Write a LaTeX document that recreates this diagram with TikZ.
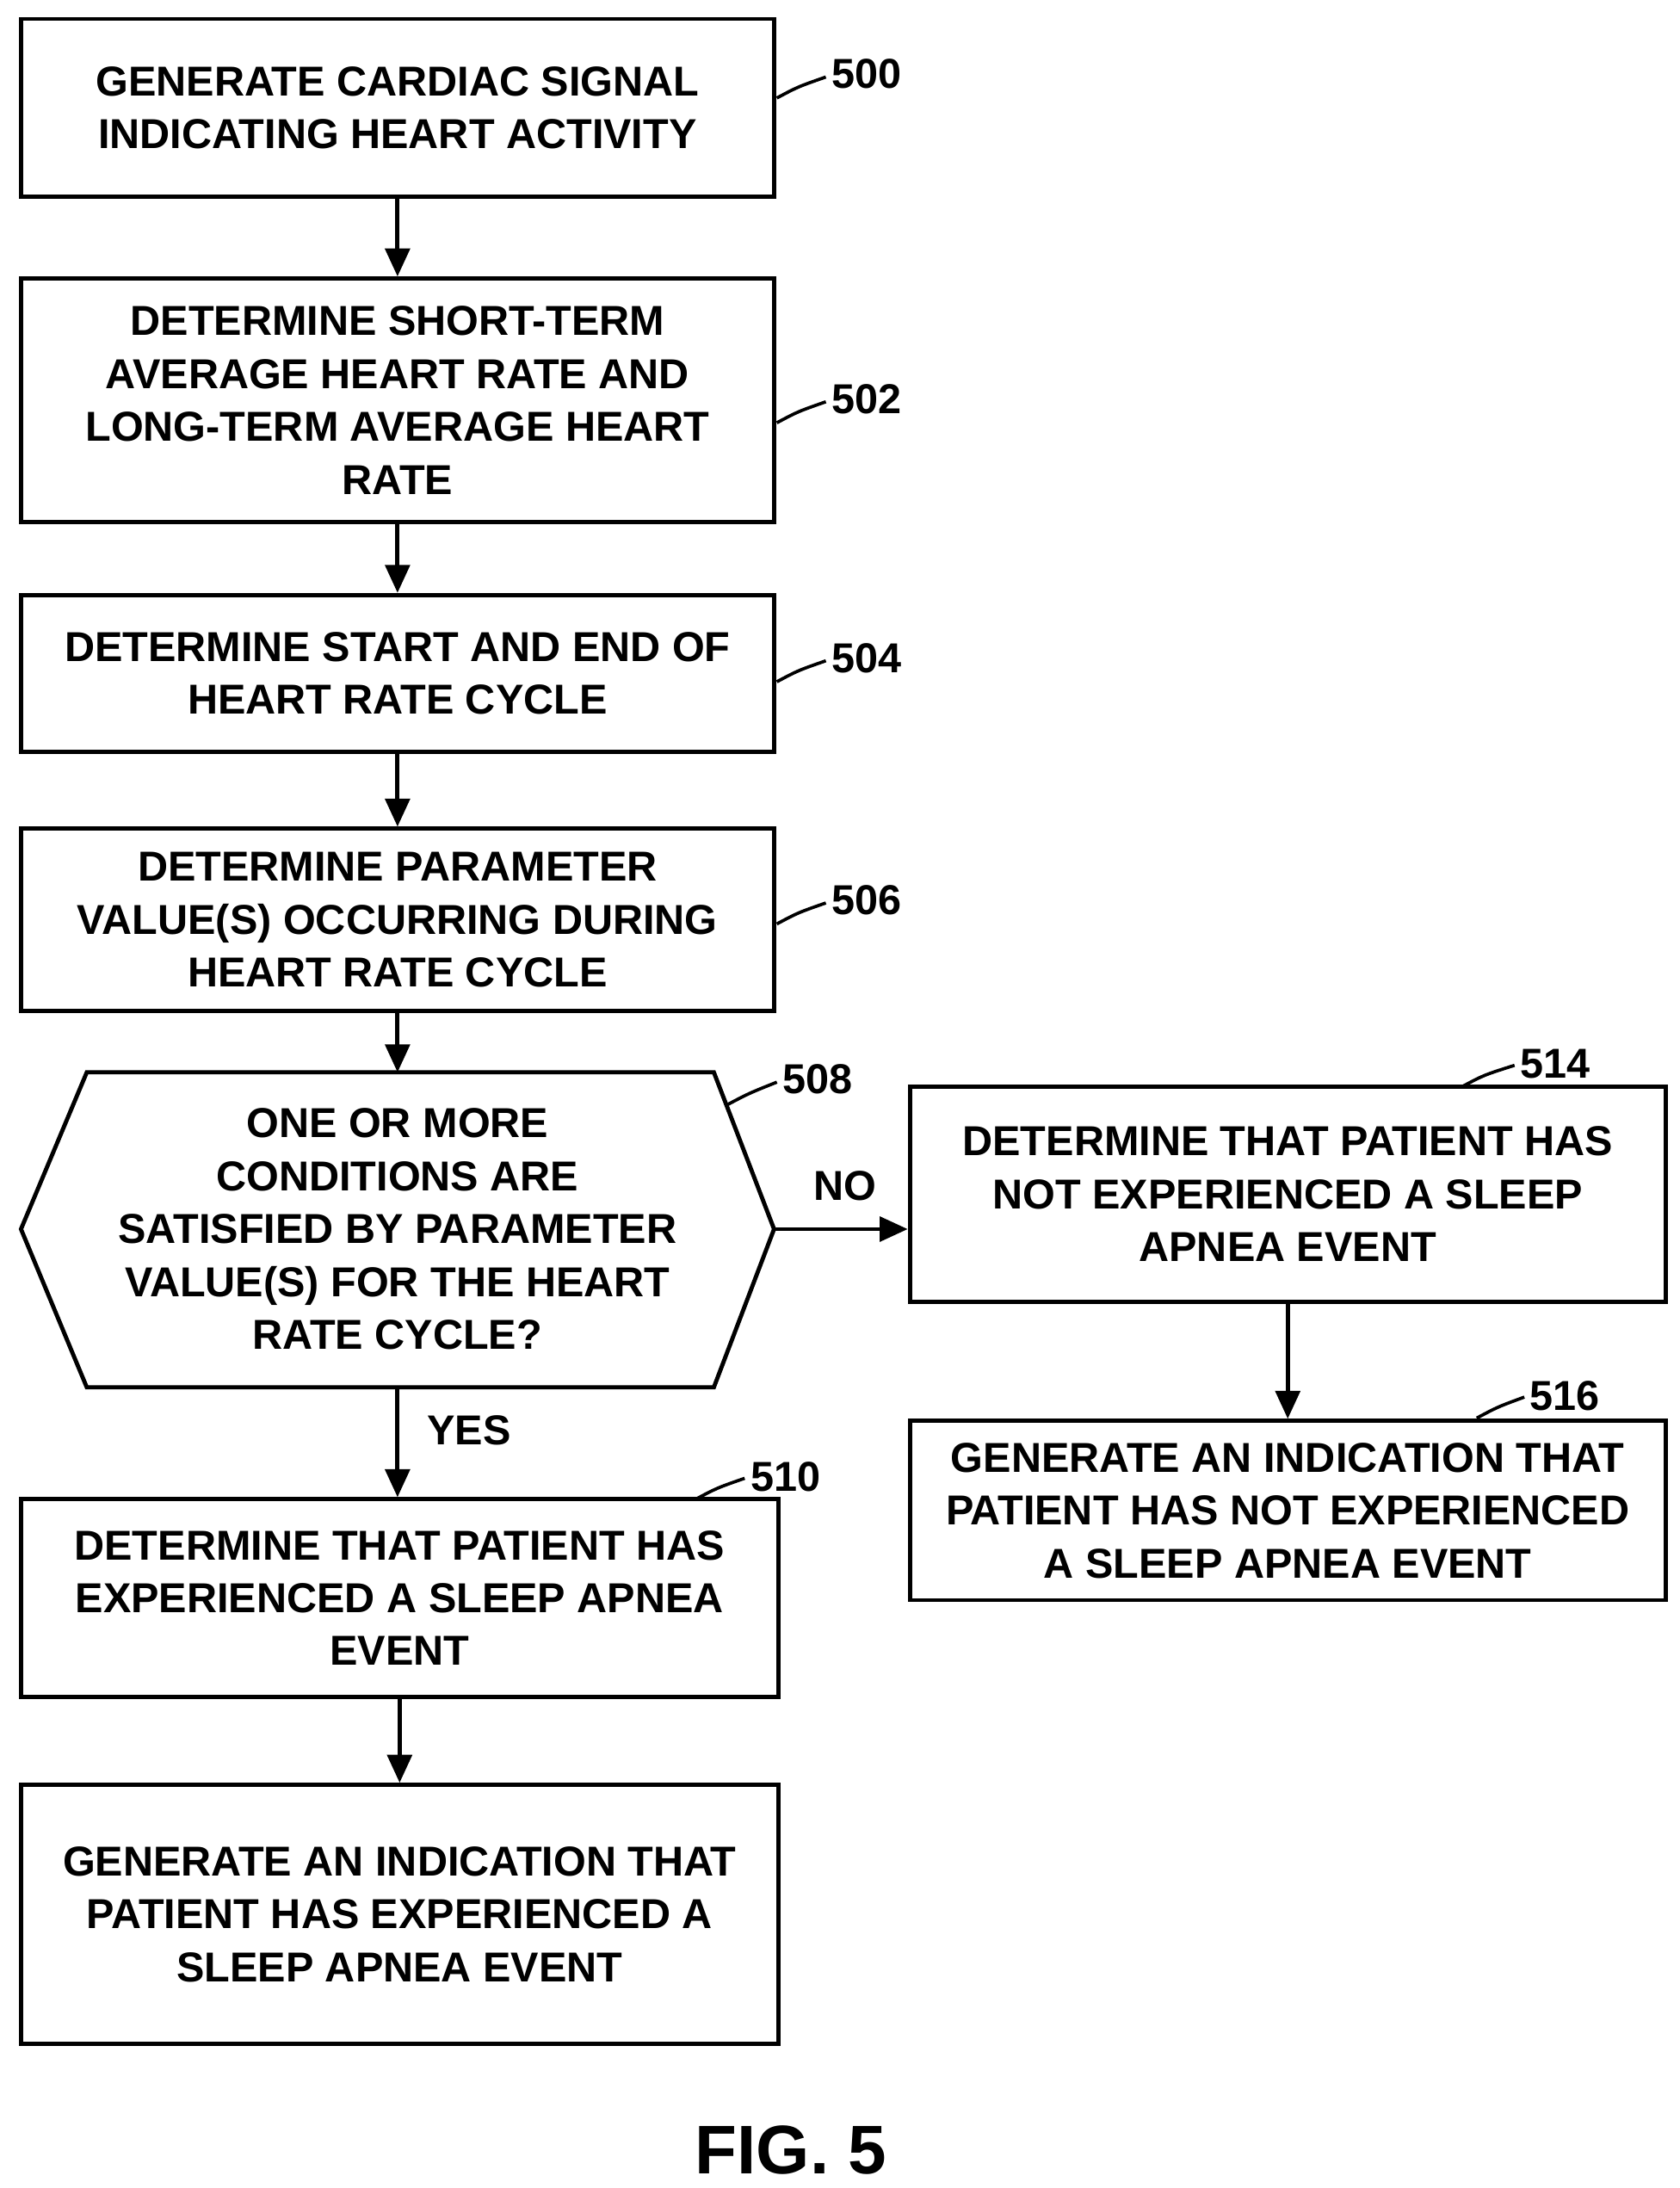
\documentclass[tikz,border=0pt]{standalone}
\usepackage{fontspec}
\setmainfont{Liberation Sans}
\usetikzlibrary{arrows.meta}
\usetikzlibrary{positioning}

\tikzset{
	box/.style={draw, line width=1.7pt, align=center, inner sep=0pt,
		font=\fontsize{17}{21.5}\selectfont\bfseries},
	flow/.style={line width=1.7pt, -{Triangle[length=4mm, width=3.5mm]}},
	tag/.style={font=\fontsize{17}{20}\selectfont\bfseries},
	lead/.style={line width=1.3pt}
}

\begin{document}
\begin{tikzpicture}[x=0.02cm, y=-0.02cm]
\useasboundingbox (0,0) rectangle (1200,1563);

\node[box, minimum width=538*0.02cm, minimum height=127*0.02cm] (s500) at (284,77)
	{GENERATE CARDIAC SIGNAL\\INDICATING HEART ACTIVITY};
\node[box, minimum width=538*0.02cm, minimum height=174*0.02cm] (s502) at (284,286)
	{DETERMINE SHORT-TERM\\AVERAGE HEART RATE AND\\LONG-TERM AVERAGE HEART\\RATE};
\node[box, minimum width=538*0.02cm, minimum height=112*0.02cm] (s504) at (284,481)
	{DETERMINE START AND END OF\\HEART RATE CYCLE};
\node[box, minimum width=538*0.02cm, minimum height=130*0.02cm] (s506) at (284,657)
	{DETERMINE PARAMETER\\VALUE(S) OCCURRING DURING\\HEART RATE CYCLE};

% decision
\coordinate (dl) at (15,878);
\coordinate (dr) at (553,878);
\coordinate (dt) at (284,766);
\coordinate (db) at (284,991);
\draw[line width=1.7pt] (dl) -- (62,766) -- (510,766) -- (dr) -- (510,991) -- (62,991) -- cycle;
\node[box, draw=none] (s508) at (284,878)
	{ONE OR MORE\\CONDITIONS ARE\\SATISFIED BY PARAMETER\\VALUE(S) FOR THE HEART\\RATE CYCLE?};

\node[box, minimum width=541*0.02cm, minimum height=141*0.02cm] (s510) at (285.5,1141.5)
	{DETERMINE THAT PATIENT HAS\\EXPERIENCED A SLEEP APNEA\\EVENT};
\node[box, minimum width=541*0.02cm, minimum height=185*0.02cm] (s512) at (285.5,1367.5)
	{GENERATE AN INDICATION THAT\\PATIENT HAS EXPERIENCED A\\SLEEP APNEA EVENT};
\node[box, minimum width=540*0.02cm, minimum height=154*0.02cm] (s514) at (920,853)
	{DETERMINE THAT PATIENT HAS\\NOT EXPERIENCED A SLEEP\\APNEA EVENT};
\node[box, minimum width=540*0.02cm, minimum height=128*0.02cm] (s516) at (920,1079)
	{GENERATE AN INDICATION THAT\\PATIENT HAS NOT EXPERIENCED\\A SLEEP APNEA EVENT};

\draw[flow] (s500) -- (s502);
\draw[flow] (s502) -- (s504);
\draw[flow] (s504) -- (s506);
\draw[flow] (s506) -- (dt);
\draw[flow] (db) -- (s510.north -| db);
\draw[flow] (s510) -- (s512);
\draw[flow] (dr) -- (s514.west |- dr);
\draw[flow] (s514) -- (s516);
\node[tag] (no) at (604,847) {NO};
\node[tag] (yes) at (335,1022) {YES};

% reference numerals
\node[tag, anchor=west] (n500) at (588,53) {500};
\draw[lead] (555,70) .. controls (570,62) .. (590,55);
\node[tag, anchor=west] (n502) at (588,285) {502};
\draw[lead] (555,302) .. controls (570,294) .. (590,287);
\node[tag, anchor=west] (n504) at (588,470) {504};
\draw[lead] (555,487) .. controls (570,479) .. (590,472);
\node[tag, anchor=west] (n506) at (588,643) {506};
\draw[lead] (555,660) .. controls (570,652) .. (590,645);
\node[tag, anchor=west] (n508) at (553,771) {508};
\draw[lead] (518,790) .. controls (535,781) .. (555,773);
\node[tag, anchor=west] (n510) at (530,1055) {510};
\draw[lead] (497,1071) .. controls (512,1063) .. (532,1056);
\node[tag, anchor=west] (n514) at (1080,760) {514};
\draw[lead] (1045,776) .. controls (1060,768) .. (1082,761);
\node[tag, anchor=west] (n516) at (1087,997) {516};
\draw[lead] (1055,1013) .. controls (1070,1005) .. (1089,998);

\node[font=\fontsize{28}{32}\selectfont\bfseries] (fig) at (565,1536) {FIG. 5};
\end{tikzpicture}
\end{document}
